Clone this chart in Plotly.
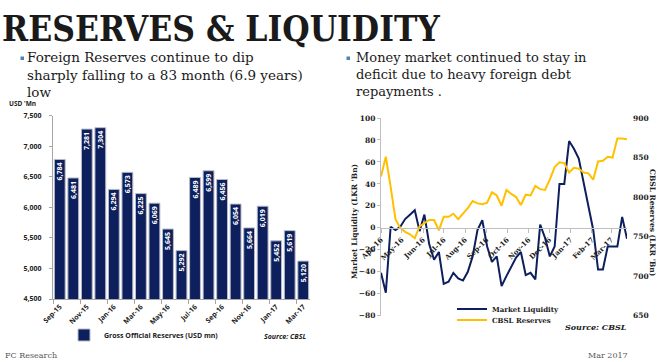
import plotly.graph_objects as go

W, H = 660, 362
def px(x): return x / W
def py(y): return 1 - y / H

# ---------------- data ----------------
bar_months = ["Sep-15", "Oct-15", "Nov-15", "Dec-15", "Jan-16", "Feb-16", "Mar-16",
              "Apr-16", "May-16", "Jun-16", "Jul-16", "Aug-16", "Sep-16", "Oct-16",
              "Nov-16", "Dec-16", "Jan-17", "Feb-17", "Mar-17"]
gross_reserves = [6784, 6481, 7281, 7304, 6294, 6573, 6225, 6069, 5645, 5292,
                  6489, 6599, 6456, 6054, 5664, 6019, 5452, 5619, 5120]

week_dates = ["2016-04-01", "2016-04-08", "2016-04-15", "2016-04-22", "2016-04-29",
              "2016-05-06", "2016-05-13", "2016-05-20", "2016-05-27",
              "2016-06-03", "2016-06-10", "2016-06-17", "2016-06-24",
              "2016-07-01", "2016-07-08", "2016-07-15", "2016-07-22", "2016-07-29",
              "2016-08-05", "2016-08-12", "2016-08-19", "2016-08-26",
              "2016-09-02", "2016-09-09", "2016-09-16", "2016-09-23", "2016-09-30",
              "2016-10-07", "2016-10-14", "2016-10-21", "2016-10-28",
              "2016-11-04", "2016-11-11", "2016-11-18", "2016-11-25",
              "2016-12-02", "2016-12-09", "2016-12-16", "2016-12-23", "2016-12-30",
              "2017-01-06", "2017-01-13", "2017-01-20", "2017-01-27",
              "2017-02-03", "2017-02-10", "2017-02-17", "2017-02-24",
              "2017-03-03", "2017-03-10", "2017-03-17", "2017-03-24"]
market_liquidity = [-41, -59, 1, -2, 1, 8, 12, 16, -3, 12, -15, -29, -22, -51, -49, -41,
                    -46, -48, -40, -26, -2, 7, -17, -31, -26, -53, -44, -35, -27, -22,
                    -43, -41, -47, 3, -9, -26, -17, 40, 40, 79, 72, 63, 42, 22, -2,
                    -38, -38, -17, -17, -17, 10, -10]
cbsl_reserves = [826, 851, 813, 772, 761, 756, 753, 748, 763, 767, 771, 771, 758, 775,
                 775, 779, 772, 779, 786, 795, 792, 791, 793, 806, 802, 789, 809, 804,
                 800, 790, 803, 802, 814, 810, 809, 822, 838, 844, 843, 831, 837, 836,
                 831, 830, 822, 845, 846, 851, 850, 874, 874, 873]

liq_ticks = [-80, -60, -40, -20, 0, 20, 40, 60, 80, 100]
res_ticks = [650, 700, 750, 800, 850, 900]

NAVY = "#0d1f5c"
GOLD = "#ffc000"
SANS = "Open Sans, Liberation Sans, sans-serif"
SERIF = "DejaVu Serif"

fig = go.Figure()

# left chart: bars
fig.add_trace(go.Bar(
    x=bar_months, y=gross_reserves, name="Gross Official Reserves (USD mn)",
    marker=dict(color=NAVY, line=dict(color="#b8bcc8", width=1)),
    texttemplate="%{y:,}", textposition="inside", textangle=-90,
    insidetextanchor="end", constraintext="none",
    textfont=dict(color="white", size=7, family=SANS, weight="bold"),
    xaxis="x", yaxis="y", legend="legend"))

# right chart: lines
fig.add_trace(go.Scatter(
    x=week_dates, y=market_liquidity, name="Market Liquidity", mode="lines",
    line=dict(color=NAVY, width=2), xaxis="x2", yaxis="y2", legend="legend2"))
fig.add_trace(go.Scatter(
    x=week_dates, y=cbsl_reserves, name="CBSL Reserves", mode="lines",
    line=dict(color=GOLD, width=2), xaxis="x2", yaxis="y3", legend="legend3"))

leg_font_r = dict(size=7, family=SERIF, weight="bold", color="#222")
fig.update_layout(
    width=W, height=H, margin=dict(l=0, r=0, t=0, b=0, autoexpand=False),
    paper_bgcolor="white", plot_bgcolor="rgba(0,0,0,0)",
    bargap=0.2, showlegend=True,
    xaxis=dict(domain=[px(53), px(310)], type="category", showline=True,
               linecolor="#a6a6a6", linewidth=1, ticks="outside", ticklen=4,
               tickcolor="#a6a6a6", tickson="boundaries", dtick=2, tickangle=-45,
               tickfont=dict(size=7, family=SANS, weight="bold", color="#222"),
               showgrid=False, anchor="y", automargin=False),
    yaxis=dict(domain=[py(299), py(115.7)], range=[4500, 7500], dtick=500,
               tickformat=",", showline=True, linecolor="#a6a6a6", linewidth=1,
               ticks="outside", ticklen=3, tickcolor="#a6a6a6", showgrid=False,
               zeroline=False, ticklabelstandoff=6, automargin=False,
               tickfont=dict(size=7, family=SANS, weight="bold", color="#222"),
               anchor="x"),
    xaxis2=dict(domain=[px(381), px(627)], type="date",
                range=["2016-04-01", "2017-03-24"], tick0="2016-04-01", dtick="M1",
                tickformat="%b-%y", tickangle=-45, showline=True,
                linecolor="#bfbfbf", linewidth=1, ticks="outside", ticklen=4,
                tickcolor="#bfbfbf", showgrid=False, anchor="free",
                position=py(228), automargin=False,
                tickfont=dict(size=7, family=SERIF, weight="bold", color="#222")),
    yaxis2=dict(domain=[py(315.7), py(118)], range=[-80, 100], tickvals=liq_ticks,
                showline=True, linecolor="#bfbfbf", linewidth=1, ticks="outside",
                ticklen=3, tickcolor="#bfbfbf", showgrid=False, zeroline=False,
                automargin=False,
                tickfont=dict(size=7.5, family=SERIF, weight="bold", color="#222"),
                anchor="x2"),
    yaxis3=dict(range=[650, 900], tickvals=res_ticks, overlaying="y2", side="right",
                anchor="free", position=px(632), showline=False, showgrid=False,
                zeroline=False, ticks="", automargin=False, autoshift=False,
                tickfont=dict(size=7.5, family=SERIF, weight="bold", color="#222")),
    legend=dict(x=px(64), y=py(335), xanchor="left", yanchor="middle",
                orientation="h", bgcolor="rgba(0,0,0,0)", itemwidth=30,
                font=dict(size=7, family=SANS, weight="bold", color="#222")),
    legend2=dict(x=px(452), y=py(309), xanchor="left", yanchor="middle",
                 orientation="v", bgcolor="rgba(0,0,0,0)", itemwidth=30,
                 font=leg_font_r),
    legend3=dict(x=px(452), y=py(320), xanchor="left", yanchor="middle",
                 orientation="v", bgcolor="rgba(0,0,0,0)", itemwidth=30,
                 font=leg_font_r),
)

ann = []
def text(x, y, s, size, family, color="#222", xanchor="left", yanchor="middle",
         bold=False, italic=False, angle=0):
    ann.append(dict(x=px(x), y=py(y), xref="paper", yref="paper", text=s,
                    showarrow=False, xanchor=xanchor, yanchor=yanchor,
                    textangle=angle, align="left",
                    font=dict(size=size, family=family, color=color,
                              weight="bold" if bold else "normal",
                              style="italic" if italic else "normal")))

# slide title
text(0, 28, "RESERVES &amp; LIQUIDITY", 35,
     "DejaVu Serif Condensed, DejaVu Serif", color="#1a1a1a", bold=True)
# bullets
text(25, 75, "Foreign Reserves continue to dip<br>"
             "sharply falling to a 83 month (6.9 years)<br>low",
     13.5, SERIF, color="#1a1a1a")
text(354, 75, "Money market continued to stay in<br>"
              "deficit due to heavy foreign debt<br>repayments .",
     13, SERIF, color="#1a1a1a")

text(7, 104, "USD 'Mn", 6.5, SANS, bold=True)
text(308, 336, "Source: CBSL", 7, SANS, xanchor="right", bold=True, italic=True)
text(629, 327, "Source: CBSL", 8, SERIF, xanchor="right", bold=True, italic=True)
text(354, 222, "Market Liquidity (LKR 'Bn)", 7.5, SERIF, bold=True, angle=-90,
     xanchor="center")
text(653, 222, "CBSL Reserves (LKR 'Bn)", 7.5, SERIF, bold=True, angle=90,
     xanchor="center")
text(3, 355, "FC Research", 8, SERIF, color="#555")
text(630, 355, "Mar 2017", 8, SERIF, color="#555", xanchor="right")

fig.update_layout(annotations=ann)

shapes = [
    dict(type="rect", xref="paper", yref="paper", x0=px(20.5), x1=px(24),
         y0=py(60), y1=py(56.5), fillcolor="#4f81bd", line=dict(width=0)),
    dict(type="rect", xref="paper", yref="paper", x0=px(346.5), x1=px(350),
         y0=py(60), y1=py(56.5), fillcolor="#4f81bd", line=dict(width=0)),
]
fig.update_layout(shapes=shapes)

fig.write_html("out.html",
               config={"displayModeBar": False},
               post_script="document.body.style.margin='0';"
                           "document.body.style.overflow='hidden';")
